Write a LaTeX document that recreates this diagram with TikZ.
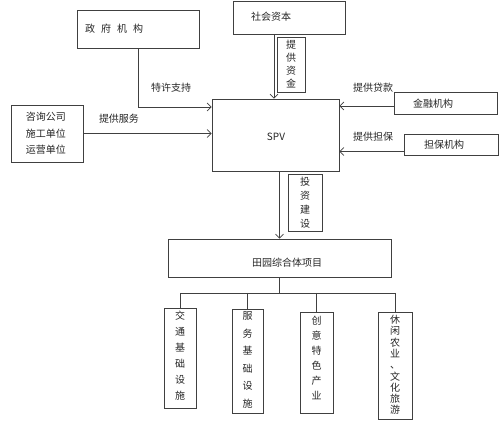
\documentclass[tikz,border=0pt]{standalone}
\usepackage{fontspec}
\setmainfont{Noto Sans CJK SC}
\usetikzlibrary{arrows.meta}
\tikzset{
  box/.style={draw=black!75, line width=0.7pt, inner sep=0pt, fill=white},
  lbl/.style={font=\fontsize{10}{12}\selectfont, text=black!85, inner sep=0pt},
  vlbl/.style={font=\fontsize{10}{#1}\selectfont, text=black!85, inner sep=0pt, align=center},
  arr/.style={draw=black!75, line width=0.7pt, -{Straight Barb[length=4pt,width=8pt]}},
  ln/.style={draw=black!75, line width=0.7pt}
}
\begin{document}
\begin{tikzpicture}[x=1pt,y=-1pt]
\useasboundingbox[fill=white] (0,0) rectangle (499,422);
% boxes
\node[box, minimum width=122pt, minimum height=38pt] (gov) at (138,29) {};
\node[lbl] (govt) at (114,29) {政\hspace{6pt}府\hspace{6pt}机\hspace{6pt}构};
\node[box, minimum width=112pt, minimum height=33pt] (soc) at (289,17.5) {};
\node[lbl] (soct) at (271,17) {社会资本};
\node[box, minimum width=28pt, minimum height=55pt] (fund) at (291,64.5) {};
\node[vlbl=13] (fundt) at (291,64.5) {提\\供\\资\\金};
\node[box, minimum width=127pt, minimum height=72pt] (spv) at (275.5,135) {};
\node[lbl] (spvt) at (276,137) {SPV};
\node[box, minimum width=103pt, minimum height=22pt] (fin) at (445.5,103) {};
\node[lbl] (fint) at (433,104) {金融机构};
\node[box, minimum width=94pt, minimum height=21pt] (guar) at (451,144.5) {};
\node[lbl] (guart) at (444,145) {担保机构};
\node[box, minimum width=72pt, minimum height=57pt] (cons) at (47,133.5) {};
\node[vlbl=16.5] (const) at (46,133.5) {咨询公司\\施工单位\\运营单位};
\node[box, minimum width=34pt, minimum height=57pt] (inv) at (305,202.5) {};
\node[vlbl=14] (invt) at (305,202.5) {投\\资\\建\\设};
\node[box, minimum width=223pt, minimum height=38pt] (proj) at (279.5,258) {};
\node[lbl] (projt) at (287,263) {田园综合体项目};
\node[box, minimum width=32pt, minimum height=100pt] (b1) at (180,358) {};
\node[vlbl=16] (b1t) at (180,356) {交\\通\\基\\础\\设\\施};
\node[box, minimum width=31pt, minimum height=104pt] (b2) at (247.5,361) {};
\node[vlbl=17.5] (b2t) at (247.5,360) {服\\务\\基\\础\\设\\施};
\node[box, minimum width=33pt, minimum height=101pt] (b3) at (316.5,362.5) {};
\node[vlbl=15] (b3t) at (316.5,358) {创\\意\\特\\色\\产\\业};
\node[box, minimum width=34pt, minimum height=107pt] (b4) at (395,365.5) {};
\node[vlbl=11.3] (b4t) at (395,365) {休\\闲\\农\\业\\、\\文\\化\\旅\\游};
% edge labels
\node[lbl] (l1) at (171,88) {特许支持};
\node[lbl] (l2) at (119,119) {提供服务};
\node[lbl] (l3) at (373,88) {提供贷款};
\node[lbl] (l4) at (373,137) {提供担保};
% connectors
\draw[arr] (gov.south) |- ([yshift=28pt]spv.west);
\draw[arr] ([xshift=-1.5pt]spv.north |- soc.south) -- ([xshift=-1.5pt]spv.north);
\draw[arr] ([yshift=-3pt]fin.west) -- ([yshift=-3pt]fin.west -| spv.east);
\draw[arr] ([yshift=-7pt]guar.west) -- ([yshift=-7pt]guar.west -| spv.east);
\draw[arr] (cons.east) -- (cons.east -| spv.west);
\draw[arr] (proj.north |- spv.south) -- (proj.north);
\coordinate (bus) at (279.5,293);
\draw[ln] (proj.south) -- (bus);
\draw[ln] (b1.north |- bus) -- (b4.north |- bus);
\foreach \b in {b1,b2,b3,b4} \draw[ln] (\b.north |- bus) -- (\b.north);
\end{tikzpicture}
\end{document}
